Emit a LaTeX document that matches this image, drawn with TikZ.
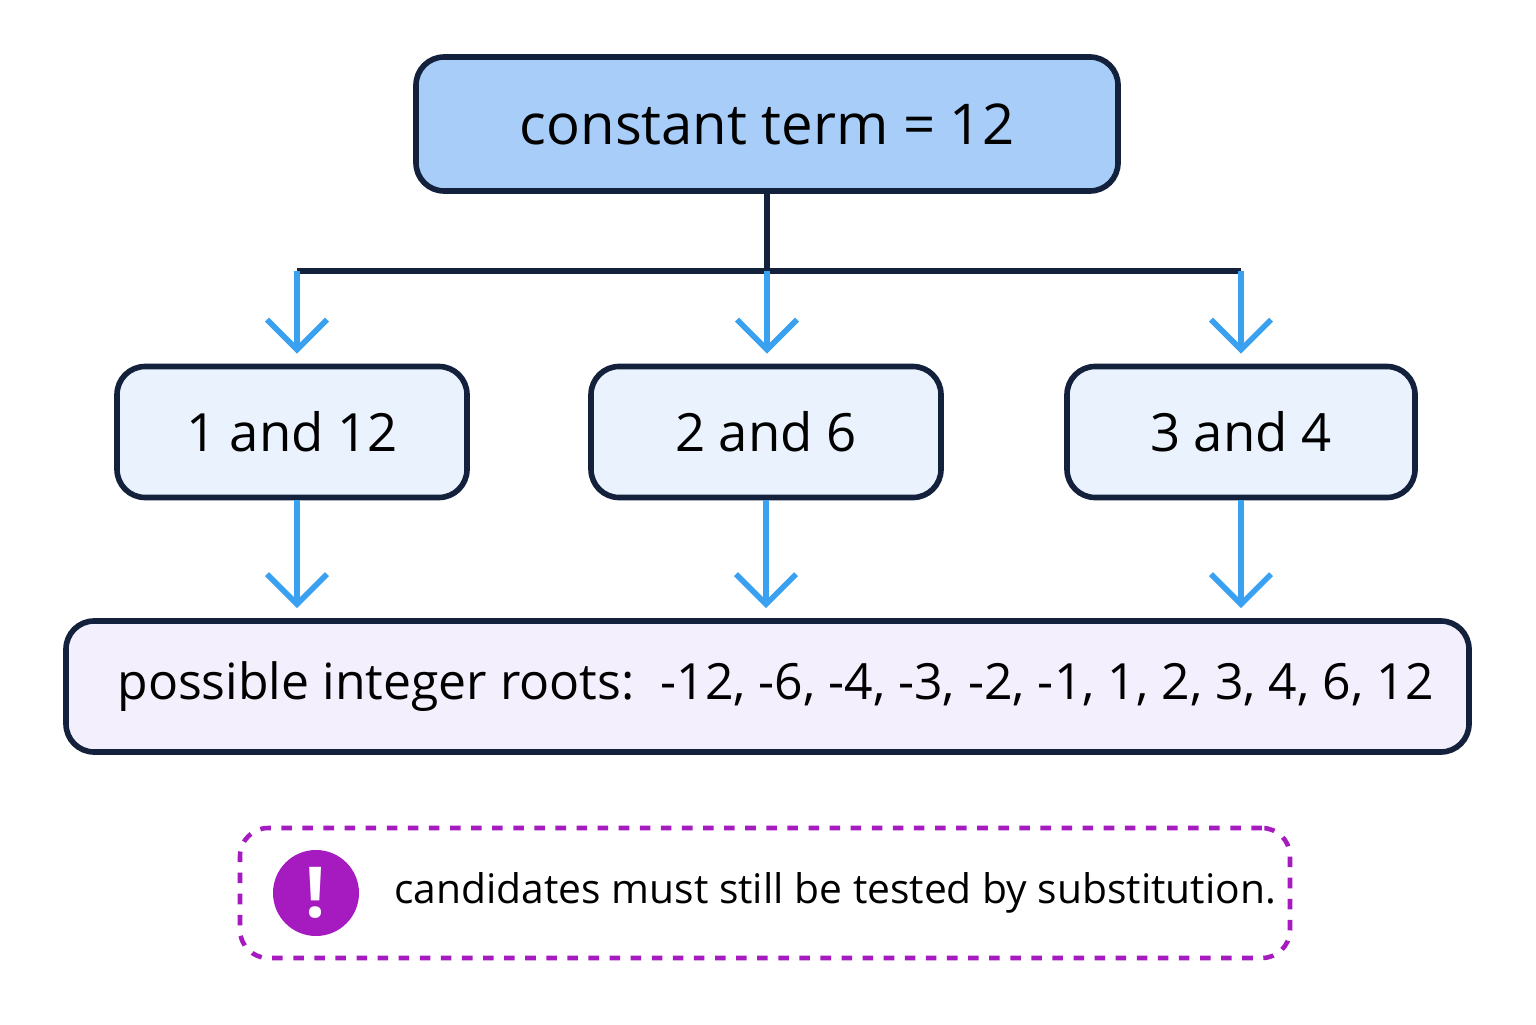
\documentclass[tikz,border=0pt]{standalone}
\usepackage{fontspec}
\setmainfont{Open Sans}
\setsansfont{Open Sans}
\usetikzlibrary{positioning, arrows.meta}
\definecolor{navy}{HTML}{14213D}
\definecolor{topfill}{HTML}{A7CDF8}
\definecolor{midfill}{HTML}{EAF3FD}
\definecolor{lowfill}{HTML}{F3EFFC}
\definecolor{arrowblue}{HTML}{3AA0F0}
\definecolor{notepurple}{HTML}{A61BC0}
\tikzset{
    box/.style={draw=navy, line width=1.6pt, rounded corners=8pt, inner sep=0pt},
    link/.style={draw=arrowblue, line width=1.6pt, -{Straight Barb[length=3mm, width=6mm]}},
}
\begin{document}
\begin{tikzpicture}[font=\sffamily]
    \useasboundingbox[fill=white] (0,0) rectangle (15.36,10.24);

    \node[box, fill=topfill, minimum width=7.02cm, minimum height=1.34cm] (const) at (7.67,9.0)
        {\fontsize{16}{20}\selectfont constant term = 12};
    \node[box, fill=midfill, minimum width=3.5cm, minimum height=1.31cm] (pairA) at (2.92,5.92)
        {\fontsize{15}{20}\selectfont 1 and 12};
    \node[box, fill=midfill, minimum width=3.5cm, minimum height=1.31cm] (pairB) at (7.66,5.92)
        {\fontsize{15}{20}\selectfont 2 and 6};
    \node[box, fill=midfill, minimum width=3.48cm, minimum height=1.31cm] (pairC) at (12.41,5.92)
        {\fontsize{15}{20}\selectfont 3 and 4};
    \node[box, fill=lowfill, minimum width=14.03cm, minimum height=1.31cm] (roots) at (7.675,3.375) {};
    \node[anchor=west] (rootstext) at (1.05,3.375)
        {\fontsize{14.2}{18}\selectfont possible integer roots:\ \ -12, -6, -4, -3, -2, -1, 1, 2, 3, 4, 6, 12};

    \node[draw=notepurple, dashed, line width=1.3pt, rounded corners=8pt,
        minimum width=10.5cm, minimum height=1.3cm] (note) at (7.65,1.31) {};
    \node[circle, fill=notepurple, minimum size=0.86cm, inner sep=0pt, text=white] (warn) at (3.16,1.31)
        {\fontsize{20}{24}\selectfont\bfseries !};
    \node[anchor=west] (notetext) at (3.82,1.31)
        {\fontsize{11.6}{14}\selectfont candidates must still be tested by substitution.};

    % tree of pairs
    \coordinate (split) at (7.67,7.53);
    \coordinate (splitA) at (2.97,7.53);
    \coordinate (splitC) at (12.41,7.53);
    \draw[navy, line width=1.6pt] (const.south) -- (split);
    \draw[navy, line width=1.6pt] (splitA) -- (splitC);
    \draw[link] (splitA) -- ([yshift=1mm]splitA |- pairA.north);
    \draw[link] (split) -- ([yshift=1mm]split |- pairB.north);
    \draw[link] (splitC) -- ([yshift=1mm]splitC |- pairC.north);
    \draw[link] (pairA.south -| splitA) -- ([yshift=1mm]splitA |- roots.north);
    \draw[link] (pairB.south) -- ([yshift=1mm]pairB.south |- roots.north);
    \draw[link] (pairC.south) -- ([yshift=1mm]pairC.south |- roots.north);
\end{tikzpicture}
\end{document}
